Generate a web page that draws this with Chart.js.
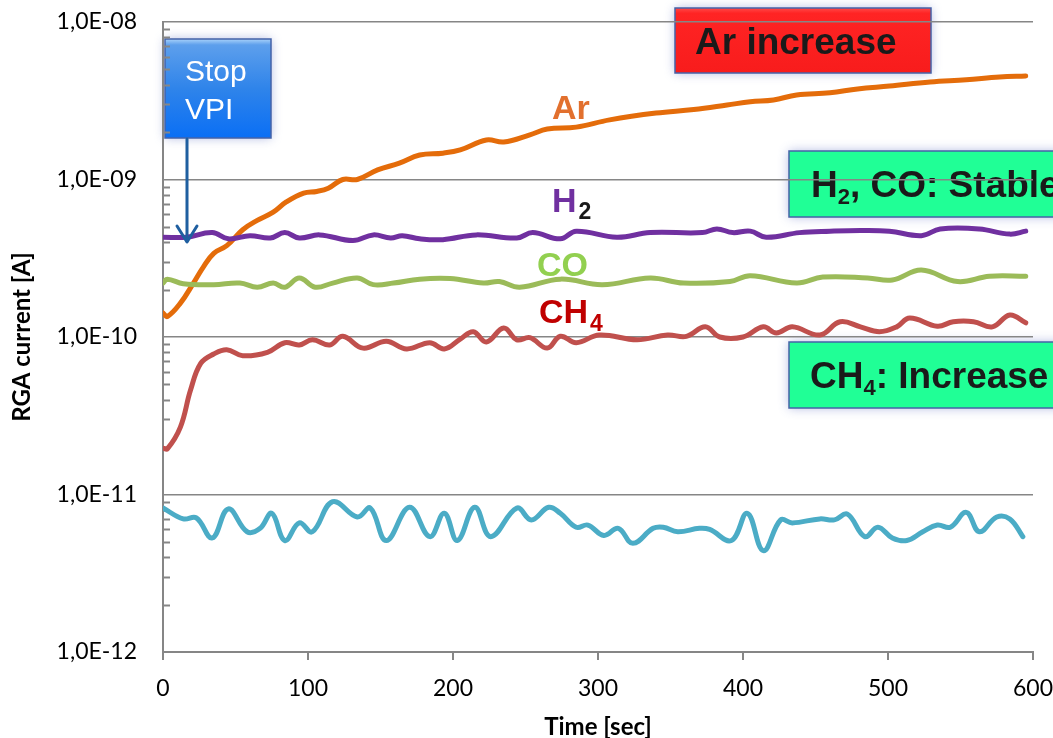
<!DOCTYPE html>
<html>
<head>
<meta charset="utf-8">
<script src="https://cdn.jsdelivr.net/npm/chart.js@4.4.0/dist/chart.umd.min.js"></script>
<style>
  html, body { margin: 0; padding: 0; background: #fff; }
  #wrap { width: 1053px; height: 738px; }
</style>
</head>
<body>
<div id="wrap"><canvas id="rgaChart" width="1053" height="738"></canvas></div>
<script>
    // RGA currents (time in sec, current in A)
    const arTime = [0, 3, 12, 21, 28, 35, 44, 55, 65, 76, 85, 97, 106, 114, 124, 134, 148, 163, 177, 193, 205, 223, 235, 253, 265, 285, 308, 340, 366, 389, 405, 421, 437, 460, 479, 501, 529, 554, 577, 595];
    const arValues = [1.42e-10, 1.35e-10, 1.64e-10, 2.2e-10, 2.8e-10, 3.4e-10, 3.8e-10, 4.8e-10, 5.5e-10, 6.2e-10, 7.2e-10, 8.2e-10, 8.4e-10, 8.8e-10, 1.0e-9, 1.0e-9, 1.15e-9, 1.27e-9, 1.43e-9, 1.47e-9, 1.54e-9, 1.78e-9, 1.73e-9, 1.92e-9, 2.09e-9, 2.15e-9, 2.39e-9, 2.64e-9, 2.78e-9, 2.97e-9, 3.12e-9, 3.2e-9, 3.44e-9, 3.55e-9, 3.76e-9, 3.92e-9, 4.16e-9, 4.3e-9, 4.48e-9, 4.54e-9];

    const h2Time = [0, 16, 34, 45, 60, 74, 84, 94, 108, 131, 145, 157, 165, 177, 193, 216, 244, 255, 274, 285, 313, 336, 372, 382, 393, 405, 416, 439, 460, 481, 501, 523, 536, 563, 584, 595];
    const h2Values = [4.3e-10, 4.3e-10, 4.6e-10, 4.2e-10, 4.4e-10, 4.25e-10, 4.6e-10, 4.25e-10, 4.45e-10, 4.1e-10, 4.45e-10, 4.25e-10, 4.4e-10, 4.2e-10, 4.15e-10, 4.45e-10, 4.25e-10, 4.6e-10, 4.2e-10, 4.7e-10, 4.3e-10, 4.6e-10, 4.6e-10, 4.85e-10, 4.6e-10, 4.7e-10, 4.3e-10, 4.6e-10, 4.7e-10, 4.75e-10, 4.7e-10, 4.4e-10, 4.85e-10, 4.85e-10, 4.5e-10, 4.7e-10];

    const coTime = [0, 3, 14, 35, 53, 65, 76, 84, 94, 105, 117, 134, 145, 159, 177, 198, 221, 232, 246, 274, 303, 336, 359, 391, 405, 437, 455, 486, 503, 523, 548, 570, 595];
    const coValues = [2.2e-10, 2.33e-10, 2.18e-10, 2.15e-10, 2.2e-10, 2.07e-10, 2.2e-10, 2.07e-10, 2.37e-10, 2.07e-10, 2.2e-10, 2.37e-10, 2.15e-10, 2.2e-10, 2.33e-10, 2.35e-10, 2.2e-10, 2.25e-10, 2.07e-10, 2.33e-10, 2.15e-10, 2.37e-10, 2.2e-10, 2.25e-10, 2.45e-10, 2.2e-10, 2.4e-10, 2.37e-10, 2.3e-10, 2.66e-10, 2.25e-10, 2.43e-10, 2.43e-10];

    const ch4Time = [0, 3, 12, 19, 26, 35, 44, 55, 72, 84, 94, 103, 115, 124, 138, 154, 168, 184, 194, 205, 214, 223, 235, 244, 253, 265, 274, 285, 301, 327, 348, 361, 374, 384, 400, 414, 423, 434, 453, 467, 481, 494, 506, 515, 534, 545, 559, 572, 584, 595];
    const ch4Values = [1.97e-11, 1.95e-11, 2.68e-11, 4.6e-11, 6.8e-11, 7.8e-11, 8.3e-11, 7.6e-11, 8.0e-11, 9.2e-11, 8.9e-11, 9.6e-11, 8.9e-11, 1.01e-10, 8.5e-11, 9.4e-11, 8.4e-11, 9.2e-11, 8.4e-11, 9.7e-11, 1.08e-10, 9.3e-11, 1.14e-10, 9.6e-11, 9.9e-11, 8.5e-11, 1.01e-10, 9.2e-11, 1.03e-10, 9.6e-11, 1.03e-10, 1.01e-10, 1.16e-10, 1.0e-10, 1.0e-10, 1.16e-10, 1.06e-10, 1.16e-10, 1.03e-10, 1.25e-10, 1.16e-10, 1.08e-10, 1.16e-10, 1.32e-10, 1.17e-10, 1.25e-10, 1.25e-10, 1.16e-10, 1.38e-10, 1.23e-10];

    const baseTime = [0, 14, 23, 34, 45, 58, 67, 75, 84, 94, 103, 117, 134, 143, 154, 170, 184, 194, 203, 215, 226, 244, 254, 266, 274, 285, 293, 304, 314, 324, 338, 345, 355, 370, 377, 392, 403, 414, 426, 434, 453, 463, 472, 484, 493, 503, 513, 524, 534, 543, 554, 563, 575, 584, 593];
    const baseValues = [8.2e-12, 7.0e-12, 7.1e-12, 5.3e-12, 8.1e-12, 5.8e-12, 6.1e-12, 7.6e-12, 5.1e-12, 6.6e-12, 5.8e-12, 9.0e-12, 7.2e-12, 8.2e-12, 5.1e-12, 8.3e-12, 5.4e-12, 7.6e-12, 5.1e-12, 8.3e-12, 5.4e-12, 8.2e-12, 6.9e-12, 8.3e-12, 7.6e-12, 6.2e-12, 6.4e-12, 5.5e-12, 6.1e-12, 4.9e-12, 6.1e-12, 6.2e-12, 5.8e-12, 6.1e-12, 6.0e-12, 5.1e-12, 7.6e-12, 4.4e-12, 6.9e-12, 6.6e-12, 7.0e-12, 6.9e-12, 7.5e-12, 5.4e-12, 6.2e-12, 5.3e-12, 5.1e-12, 5.8e-12, 6.4e-12, 6.2e-12, 7.7e-12, 5.8e-12, 7.2e-12, 7.0e-12, 5.4e-12];

    // axis ticks
    const yDecades = [1e-12, 1e-11, 1e-10, 1e-9, 1e-8];
    const xTicks = [0, 100, 200, 300, 400, 500, 600];

    const axisGrey = '#868686';
    const toPoints = (ts, vs) => ts.map((t, i) => ({ x: t, y: vs[i] }));

    // "1,0E-08" style labels
    function sciLabel(v) {
        const e = Math.round(Math.log10(v));
        return '1,0E' + (e < 0 ? '-' : '+') + String(Math.abs(e)).padStart(2, '0');
    }

    function lineSet(label, ts, vs, color) {
        return {
            label: label,
            data: toPoints(ts, vs),
            borderColor: color,
            borderWidth: 5,
            tension: 0.4,
            pointRadius: 0,
            borderCapStyle: 'round',
            borderJoinStyle: 'round',
            fill: false
        };
    }

    // text runs with subscripts: [text, size, color, dy, gapAfter]
    function drawRuns(ctx, x, y, runs) {
        runs.forEach(r => {
            ctx.font = 'bold ' + r[1] + 'px "Liberation Sans", Arial, sans-serif';
            ctx.fillStyle = r[2];
            ctx.fillText(r[0], x, y + (r[3] || 0));
            x += ctx.measureText(r[0]).width + (r[4] || 0);
        });
    }

    function box(ctx, x, y, w, h, fill) {
        ctx.save();
        ctx.shadowColor = 'rgba(80,100,190,0.45)';
        ctx.shadowBlur = 10;
        ctx.fillStyle = fill;
        ctx.fillRect(x, y, w, h);
        ctx.restore();
        ctx.strokeStyle = '#4563a8';
        ctx.lineWidth = 1.5;
        ctx.strokeRect(x, y, w, h);
    }

    // callout boxes sit under the gridlines
    const calloutBoxes = {
        id: 'calloutBoxes',
        beforeDraw(chart) {
            const ctx = chart.ctx;
            ctx.save();
            ctx.textBaseline = 'alphabetic';

            // Ar increase
            const red = ctx.createLinearGradient(0, 8, 0, 73);
            red.addColorStop(0, '#ff4a4a');
            red.addColorStop(0.08, '#ff2424');
            red.addColorStop(1, '#f81c1c');
            box(ctx, 675, 8, 256, 65, red);
            drawRuns(ctx, 695, 54, [['Ar increase', 37, '#1a1a1a']]);

            // H2, CO: Stable
            box(ctx, 789, 151, 290, 66, '#20ff96');
            drawRuns(ctx, 811, 197, [['H', 37, '#1a1a1a'], ['2', 22, '#1a1a1a', 7], [', CO: Stable', 37, '#1a1a1a']]);

            // CH4: Increase
            box(ctx, 789, 342, 290, 66, '#20ff96');
            drawRuns(ctx, 810, 388, [['CH', 37, '#1a1a1a'], ['4', 22, '#1a1a1a', 7], [': Increase', 37, '#1a1a1a']]);

            // Stop VPI
            const blue = ctx.createLinearGradient(0, 39, 0, 138);
            blue.addColorStop(0, '#a9d2fa');
            blue.addColorStop(0.06, '#5d9fec');
            blue.addColorStop(0.5, '#2f84ea');
            blue.addColorStop(1, '#0a6ff5');
            box(ctx, 165, 39, 106, 99, blue);
            ctx.font = '30px "Liberation Sans", Arial, sans-serif';
            ctx.fillStyle = '#ffffff';
            ctx.fillText('Stop', 185, 81);
            ctx.fillText('VPI', 185, 119);
            ctx.restore();
        },
        beforeDatasetsDraw(chart) {
            // minor log ticks inside the y axis
            const ctx = chart.ctx, ys = chart.scales.y, x0 = chart.chartArea.left;
            ctx.save();
            ctx.strokeStyle = axisGrey;
            ctx.lineWidth = 2;
            for (let d = 0; d < yDecades.length - 1; d++) {
                for (let m = 2; m <= 9; m++) {
                    const py = Math.round(ys.getPixelForValue(m * yDecades[d])) + 0.5;
                    ctx.beginPath();
                    ctx.moveTo(x0, py);
                    ctx.lineTo(x0 + 7, py);
                    ctx.stroke();
                }
            }
            ctx.restore();
        },
        afterDatasetsDraw(chart) {
            const ctx = chart.ctx;
            ctx.save();
            // series labels
            drawRuns(ctx, 552, 119, [['Ar', 34, '#e2702e']]);
            drawRuns(ctx, 552, 212, [['H', 34, '#7030a0', 0, 2], ['2', 23, '#1a1a1a', 7]]);
            drawRuns(ctx, 537, 276, [['CO', 34, '#92d050']]);
            drawRuns(ctx, 539, 323, [['CH', 34, '#c00000', 0, 2], ['4', 23, '#c00000', 8]]);

            // Stop VPI arrow
            ctx.strokeStyle = '#1f5fa0';
            ctx.lineWidth = 3;
            ctx.lineCap = 'round';
            ctx.lineJoin = 'round';
            ctx.beginPath();
            ctx.moveTo(187, 139);
            ctx.lineTo(187, 241);
            ctx.stroke();
            ctx.beginPath();
            ctx.moveTo(177, 226);
            ctx.lineTo(187, 242);
            ctx.lineTo(197, 226);
            ctx.stroke();
            ctx.restore();
        }
    };

    const ctx = document.getElementById('rgaChart').getContext('2d');

    new Chart(ctx, {
        type: 'line',
        data: {
            datasets: [
                lineSet('Base', baseTime, baseValues, '#4bacc6'),
                lineSet('CH4', ch4Time, ch4Values, '#c0504d'),
                lineSet('CO', coTime, coValues, '#9bbb59'),
                lineSet('H2', h2Time, h2Values, '#7030a0'),
                lineSet('Ar', arTime, arValues, '#e46c0a')
            ]
        },
        options: {
            responsive: false,
            animation: false,
            devicePixelRatio: 1,
            layout: { padding: { top: 22, right: 20, left: 0, bottom: 0 } },
            plugins: {
                legend: { display: false },
                tooltip: { enabled: false }
            },
            scales: {
                x: {
                    type: 'linear',
                    min: 0,
                    max: 600,
                    afterBuildTicks: s => { s.ticks = xTicks.map(v => ({ value: v })); },
                    afterFit: s => { s.height = 86; s.paddingLeft = 0; s.paddingRight = 0; },
                    grid: { drawOnChartArea: false, drawTicks: true, tickLength: 8, color: axisGrey, lineWidth: 2 },
                    border: { color: axisGrey, width: 2 },
                    ticks: { padding: 15, maxRotation: 0, color: '#000', font: { family: 'Lato', size: 23 } },
                    title: {
                        display: true,
                        text: 'Time [sec]',
                        color: '#000',
                        font: { family: 'Lato', size: 24, weight: 'bold', lineHeight: 1 },
                        padding: { top: 0, bottom: -1 }
                    }
                },
                y: {
                    type: 'logarithmic',
                    min: 1e-12,
                    max: 1e-8,
                    afterBuildTicks: s => { s.ticks = yDecades.map(v => ({ value: v })); },
                    afterFit: s => { s.width = 163; s.paddingTop = 0; s.paddingBottom = 0; },
                    grid: { color: axisGrey, lineWidth: 1.5, drawTicks: false },
                    border: { color: axisGrey, width: 2 },
                    ticks: {
                        padding: 26,
                        color: '#000',
                        font: { family: 'Lato', size: 23 },
                        callback: v => sciLabel(v)
                    },
                    title: {
                        display: true,
                        text: 'RGA current [A]',
                        color: '#000',
                        font: { family: 'Lato', size: 24, weight: 'bold', lineHeight: 1 },
                        padding: { top: 10, bottom: 0 }
                    }
                }
            }
        },
        plugins: [calloutBoxes]
    });
</script>
</body>
</html>
